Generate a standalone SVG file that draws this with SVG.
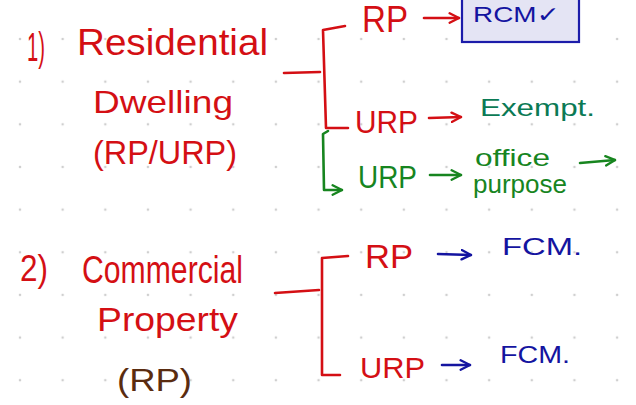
<svg xmlns="http://www.w3.org/2000/svg" width="636" height="405" viewBox="0 0 636 405">
<defs>
<style>
text{font-family:"Liberation Sans","DejaVu Sans",sans-serif;}
.red{fill:#d40f14}
.blue{fill:#1414a0}
.green{fill:#17851f}
.teal{fill:#0b7a55}
.brown{fill:#5a2c10}
.ln{fill:none;stroke-width:2.6;stroke-linecap:round;stroke-linejoin:round}
.lr{stroke:#d40f14}
.lg{stroke:#17851f}
.lb{stroke:#1414a0}
</style>
<pattern id="dots" x="20" y="39" width="42.65" height="42.65" patternUnits="userSpaceOnUse">
<circle cx="0" cy="0" r="1.3" fill="#cfcfcf"/>
<circle cx="42.65" cy="0" r="1.3" fill="#cfcfcf"/>
<circle cx="0" cy="42.65" r="1.3" fill="#cfcfcf"/>
<circle cx="42.65" cy="42.65" r="1.3" fill="#cfcfcf"/>
</pattern>
<marker id="ar" viewBox="0 0 10 10" refX="9" refY="5" markerWidth="4.5" markerHeight="4.5" orient="auto" markerUnits="strokeWidth">
<path d="M1 1 L9 5 L1 9" fill="none" stroke="#d40f14" stroke-width="2" stroke-linecap="round"/>
</marker>
<marker id="ag" viewBox="0 0 10 10" refX="9" refY="5" markerWidth="4.5" markerHeight="4.5" orient="auto" markerUnits="strokeWidth">
<path d="M1 1 L9 5 L1 9" fill="none" stroke="#17851f" stroke-width="2" stroke-linecap="round"/>
</marker>
<marker id="ab" viewBox="0 0 10 10" refX="9" refY="5" markerWidth="4.5" markerHeight="4.5" orient="auto" markerUnits="strokeWidth">
<path d="M1 1 L9 5 L1 9" fill="none" stroke="#1414a0" stroke-width="2" stroke-linecap="round"/>
</marker>
</defs>
<rect width="636" height="405" fill="#ffffff"/>
<rect width="636" height="405" fill="url(#dots)"/>

<g id="connectors">
<path class="ln lr" d="M284 73 L320 72"/>
<path class="ln lr" d="M345 26 L323 30 L326 128 L348 128"/>
<path class="ln lr" d="M424 18 L459 18" marker-end="url(#ar)"/>
<path class="ln lr" d="M429 118 L461 117" marker-end="url(#ar)"/>
<path class="ln lg" d="M328 131 L323 134 L324 190 L342 190" marker-end="url(#ag)"/>
<path class="ln lg" d="M430 175 L461 175" marker-end="url(#ag)"/>
<path class="ln lg" d="M580 163 L615 160" marker-end="url(#ag)"/>
<path class="ln lr" d="M275 293 L319 290"/>
<path class="ln lr" d="M348 256 L322 258 L322 375 L340 375"/>
<path class="ln lb" d="M438 254 L471 255" marker-end="url(#ab)"/>
<path class="ln lb" d="M442 365 L470 365" marker-end="url(#ab)"/>
</g>

<g id="n1-number"><text class="red" x="27" y="61" font-size="40" textLength="18" lengthAdjust="spacingAndGlyphs">1)</text></g>
<g id="n1-title">
<text class="red" x="77" y="55" font-size="36" textLength="191" lengthAdjust="spacingAndGlyphs">Residential</text>
<text class="red" x="93" y="113" font-size="32" textLength="140" lengthAdjust="spacingAndGlyphs">Dwelling</text>
<text class="red" x="93" y="164" font-size="34" textLength="144" lengthAdjust="spacingAndGlyphs">(RP/URP)</text>
</g>
<g id="n1-rp"><text class="red" x="362" y="32" font-size="36" textLength="46" lengthAdjust="spacingAndGlyphs">RP</text></g>
<g id="n1-rcm">
<rect x="462" y="-3" width="117" height="45" fill="#e4e4f4" stroke="#1c1caa" stroke-width="2.2"/>
<text class="blue" x="473" y="22" font-size="22" textLength="87" lengthAdjust="spacingAndGlyphs">RCM✓</text>
</g>
<g id="n1-urp-red"><text class="red" x="355" y="133" font-size="31" textLength="63" lengthAdjust="spacingAndGlyphs">URP</text></g>
<g id="n1-exempt"><text class="teal" x="480" y="116" font-size="24" textLength="115" lengthAdjust="spacingAndGlyphs">Exempt.</text></g>
<g id="n1-urp-green"><text class="green" x="358" y="188" font-size="31" textLength="59" lengthAdjust="spacingAndGlyphs">URP</text></g>
<g id="n1-office">
<text class="green" x="475" y="166" font-size="24" textLength="75" lengthAdjust="spacingAndGlyphs">office</text>
<text class="green" x="473" y="193" font-size="26" textLength="94" lengthAdjust="spacingAndGlyphs">purpose</text>
</g>

<g id="n2-number"><text class="red" x="20" y="281" font-size="36" textLength="28" lengthAdjust="spacingAndGlyphs">2)</text></g>
<g id="n2-title">
<text class="red" x="82" y="283" font-size="38" textLength="161" lengthAdjust="spacingAndGlyphs">Commercial</text>
<text class="red" x="97" y="331" font-size="33" textLength="141" lengthAdjust="spacingAndGlyphs">Property</text>
<text class="brown" x="117" y="391" font-size="32" textLength="75" lengthAdjust="spacingAndGlyphs">(RP)</text>
</g>
<g id="n2-rp"><text class="red" x="365" y="268" font-size="34" textLength="48" lengthAdjust="spacingAndGlyphs">RP</text></g>
<g id="n2-fcm1"><text class="blue" x="502" y="255" font-size="24" textLength="80" lengthAdjust="spacingAndGlyphs">FCM.</text></g>
<g id="n2-urp"><text class="red" x="360" y="378" font-size="30" textLength="65" lengthAdjust="spacingAndGlyphs">URP</text></g>
<g id="n2-fcm2"><text class="blue" x="500" y="363" font-size="24" textLength="70" lengthAdjust="spacingAndGlyphs">FCM.</text></g>
</svg>
